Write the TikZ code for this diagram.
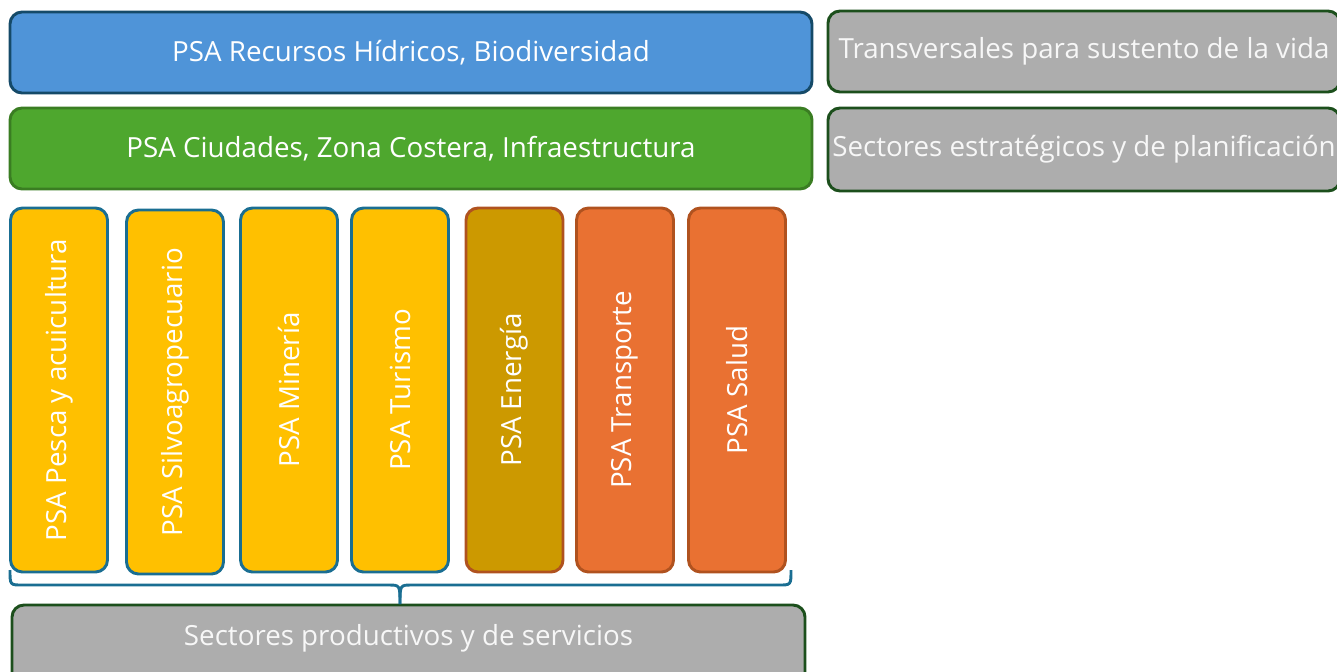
\documentclass[tikz,border=0pt]{standalone}
\usepackage{fontspec}
\setmainfont{Open Sans}
\definecolor{blueF}{HTML}{4F94D8}
\definecolor{blueD}{HTML}{154A68}
\definecolor{greenF}{HTML}{4EA72E}
\definecolor{greenD}{HTML}{3A7D22}
\definecolor{grayF}{HTML}{ADADAD}
\definecolor{grayD}{HTML}{1C4F1C}
\definecolor{yelF}{HTML}{FFC000}
\definecolor{tealD}{HTML}{1A6E92}
\definecolor{goldF}{HTML}{CC9900}
\definecolor{oraF}{HTML}{E97132}
\definecolor{oraD}{HTML}{B0521F}
\tikzset{
  box/.style={draw, line width=2.2pt, rounded corners=9pt, text=white, font=\fontsize{20.8}{24}\selectfont, inner sep=0pt},
  hbox/.style={box, minimum width={#1*0.75pt}, minimum height={81*0.75pt}},
  vbox/.style={box, minimum width={97*0.75pt}, minimum height={364*0.75pt}},
  vtext/.style={text=white, font=\fontsize{20.8}{24}\selectfont, rotate=90},
  bracestyle/.style={draw=tealD, line width=2.2pt}
}
\begin{document}
\begin{tikzpicture}[x=0.75pt,y=-0.75pt]
\useasboundingbox (0,0) rectangle (1337,671);
\node[hbox=802, fill=blueF, draw=blueD] (rh) at (411,52.5) {PSA Recursos Hídricos, Biodiversidad};
\node[hbox=802, fill=greenF, draw=greenD] (cz) at (411,148.5) {PSA Ciudades, Zona Costera, Infraestructura};
\node[hbox=512, fill=grayF, draw=grayD, text=white!97!black] (tr) at (1084,51.5) {Transversales para sustento de la vida};
\node[hbox=512, minimum height={83*0.75pt}, fill=grayF, draw=grayD, text=white!97!black] (se) at (1084,149.5) {Sectores estratégicos y de planificación};

\node[vbox, fill=yelF, draw=tealD] (pe) at (59,390) {};
\node[vtext] at (pe.center) {PSA Pesca y acuicultura};
\node[vbox, fill=yelF, draw=tealD] (si) at (175,392) {};
\node[vtext] at (si.center) {PSA Silvoagropecuario};
\node[vbox, fill=yelF, draw=tealD] (mi) at (289,390) {};
\node[vtext] at (mi.center) {PSA Minería};
\node[vbox, fill=yelF, draw=tealD] (tu) at (400,390) {};
\node[vtext] at (tu.center) {PSA Turismo};
\node[vbox, fill=goldF, draw=oraD] (en) at (514.5,390) {};
\node[vtext] at (en.center) {PSA Energía};
\node[vbox, fill=oraF, draw=oraD] (tp) at (625,390) {};
\node[vtext] at (tp.center) {PSA Transporte};
\node[vbox, fill=oraF, draw=oraD] (sa) at (737,390) {};
\node[vtext] at (sa.center) {PSA Salud};

\node[box, fill=grayF, draw=grayD, minimum width={793*0.75pt}, minimum height={80*0.75pt}] (sp) at (408.5,645) {};
\node[text=white!97!black, font=\fontsize{20.8}{24}\selectfont] at (408.5,638) {Sectores productivos y de servicios};

\coordinate (bl) at (10,570);
\coordinate (br) at (791,570);
\coordinate (tip) at (400,604);
\draw[bracestyle] (bl) .. controls (10,585) .. (22,585) -- (388,585) .. controls (400,585) .. (tip);
\draw[bracestyle] (br) .. controls (791,585) .. (779,585) -- (412,585) .. controls (400,585) .. (tip);
\end{tikzpicture}
\end{document}
